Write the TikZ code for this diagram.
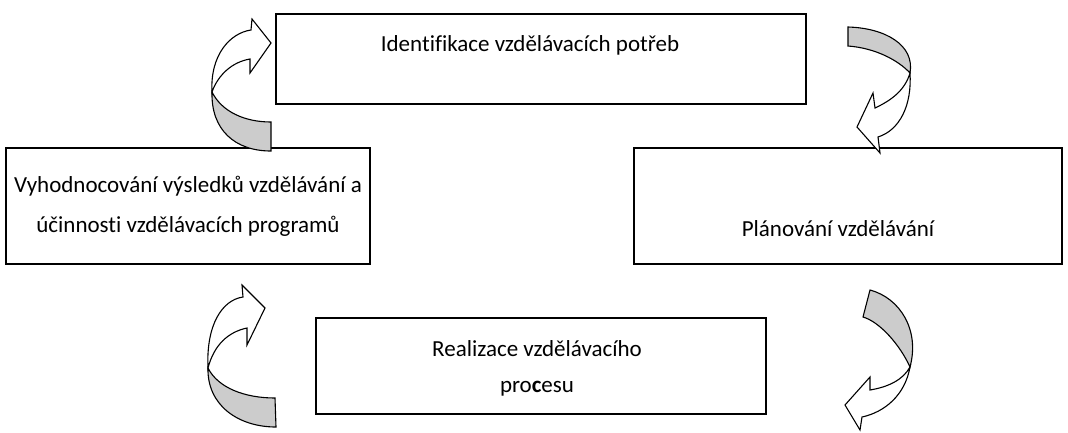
\documentclass[tikz,border=0pt]{standalone}
\usepackage{fontspec}
\setmainfont[Ligatures={NoCommon}]{Carlito}
\begin{document}
\begin{tikzpicture}[x=1pt,y=-1pt,
  stagebox/.style={draw=black,line width=1.6pt,rectangle,inner sep=0pt},
  stagetext/.style={align=center,inner sep=0pt,font=\fontsize{23}{40}\selectfont},
  bandfront/.style={draw=black,line width=1.1pt,fill=white,line join=miter},
  bandback/.style={draw=black,line width=1.1pt,fill=black!20,line join=miter}]
\useasboundingbox (0,0) rectangle (1068,432);

% the four stages
\node[stagebox,minimum width=530pt,minimum height=90pt] (ident) at (541,59) {};
\node[stagebox,minimum width=364pt,minimum height=116pt] (eval) at (188,206) {};
\node[stagebox,minimum width=428pt,minimum height=116pt] (plan) at (848,206) {};
\node[stagebox,minimum width=450pt,minimum height=96pt] (real) at (541,366) {};

\node[stagetext] (identtext) at (530,45) {Identifikace vzdělávacích potřeb};
\node[stagetext] (evaltext) at (188,206) {Vyhodnocování výsledků vzdělávání a\\účinnosti vzdělávacích programů};
\node[stagetext] (plantext) at (838,229) {Plánování vzdělávání};
\node[stagetext,font=\fontsize{23}{36}\selectfont] (realtext) at (537,368) {Realizace vzdělávacího\\pro\textbf{c}esu};

% curved arrow, top left
\draw[bandback] (212,92) .. controls (222,112) and (245,122) .. (271,122)
  -- (271,151) .. controls (235,151) and (211,130) .. (212,92) -- cycle;
\draw[bandfront] (212,92) .. controls (210,55) and (230,33) .. (251,30)
  -- (252,19) -- (271,43) -- (250,73) -- (250,59)
  .. controls (232,62) and (218,75) .. (212,92) -- cycle;

% curved arrow, bottom left
\draw[bandback] (208,368) .. controls (218,388) and (245,398) .. (275,398)
  -- (276,427) .. controls (238,427) and (207,405) .. (208,368) -- cycle;
\draw[bandfront] (208,368) .. controls (206,325) and (222,300) .. (243,297)
  -- (242,285) -- (265,308) -- (247,345) -- (247,328)
  .. controls (228,332) and (214,345) .. (208,368) -- cycle;

% curved arrow, top right
\draw[bandback] (848,27) .. controls (885,28) and (915,45) .. (910,73)
  .. controls (898,60) and (875,48) .. (848,46) -- cycle;
\draw[bandfront] (910,73) .. controls (912,105) and (900,130) .. (878,137)
  -- (880,153) -- (857,127) -- (873,93) -- (875,108)
  .. controls (892,100) and (905,90) .. (910,73) -- cycle;

% curved arrow, bottom right
\draw[bandback] (870,290) .. controls (900,298) and (920,330) .. (910,367)
  .. controls (900,345) and (880,322) .. (863,317) -- cycle;
\draw[bandfront] (910,367) .. controls (905,395) and (885,412) .. (862,417)
  -- (860,430) -- (845,405) -- (870,377) -- (870,390)
  .. controls (888,387) and (903,380) .. (910,367) -- cycle;
\end{tikzpicture}
\end{document}
